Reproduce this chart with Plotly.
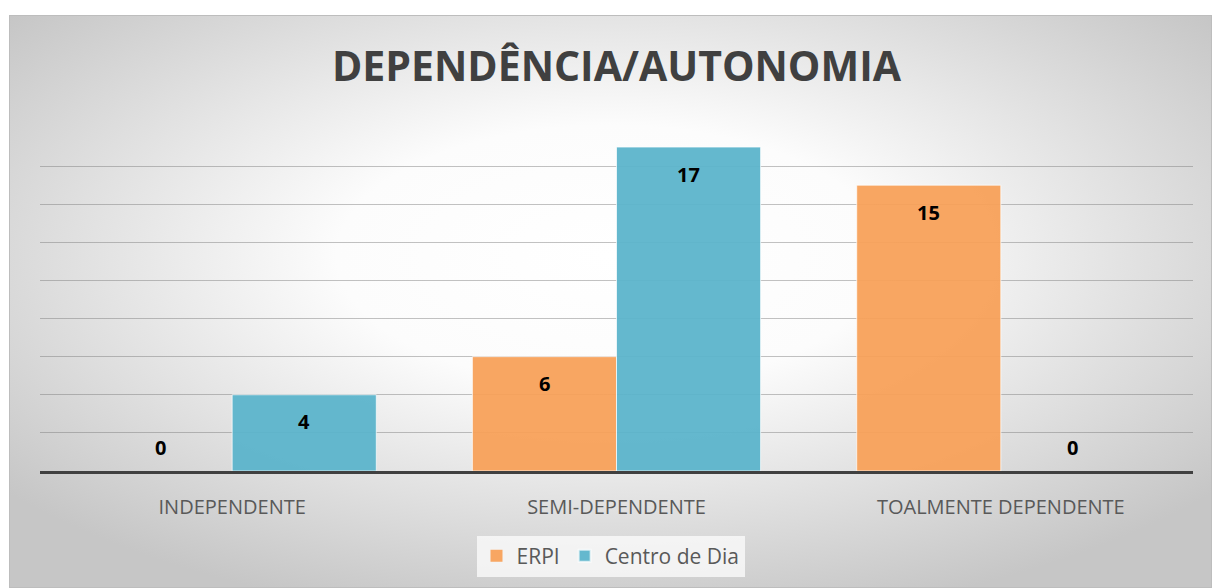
import base64
import plotly.graph_objects as go

categories = ["INDEPENDENTE", "SEMI-DEPENDENTE", "TOALMENTE DEPENDENTE"]
erpi = [0, 6, 15]
centro = [4, 17, 0]
series_names = ["ERPI", "Centro de Dia"]
title_text = "DEPENDÊNCIA/AUTONOMIA"

ORANGE = "rgba(248,160,88,0.94)"
TEAL = "rgba(90,180,203,0.94)"

W, H = 1212, 588
L, R, T, B = 40, 19, 128, 117
pw, ph = W - L - R, H - T - B


def edge(vals):
    return ["rgba(255,255,255,0.7)" if v > 0 else "rgba(0,0,0,0)" for v in vals]


fig = go.Figure()
fig.add_trace(go.Bar(name=series_names[0], x=categories, y=erpi,
                     marker=dict(color=ORANGE, line=dict(color=edge(erpi), width=1))))
fig.add_trace(go.Bar(name=series_names[1], x=categories, y=centro,
                     marker=dict(color=TEAL, line=dict(color=edge(centro), width=1))))

half = pw / len(categories) * 0.75 / 4
for vals, xs in ((erpi, -half), (centro, half)):
    for c, v in zip(categories, vals):
        fig.add_annotation(x=c, y=v, text=str(v), showarrow=False,
                           xshift=xs, yshift=(-27 if v > 0 else 24),
                           font=dict(family="Open Sans", size=20, color="black", weight="bold"))

svg = """<svg xmlns='http://www.w3.org/2000/svg' width='1203' height='573' viewBox='0 0 1203 573' preserveAspectRatio='none'>
<defs><radialGradient id='g' cx='0.5' cy='0.42' r='0.65' gradientUnits='objectBoundingBox'>
<stop offset='0' stop-color='#ffffff'/><stop offset='0.35' stop-color='#fcfcfc'/><stop offset='1' stop-color='#c6c6c6'/></radialGradient></defs>
<rect x='0' y='0' width='1203' height='573' fill='url(#g)' stroke='#bdbdbd' stroke-width='2'/></svg>"""
uri = "data:image/svg+xml;base64," + base64.b64encode(svg.encode()).decode()
x0 = (9 - L) / pw
y0 = (H - B - 15) / ph
fig.add_layout_image(source=uri, xref="paper", yref="paper", x=x0, y=y0,
                     sizex=(W - 9) / pw, sizey=(H - 15) / ph,
                     xanchor="left", yanchor="top", sizing="stretch", layer="below")

fig.update_layout(
    width=W, height=H,
    margin=dict(l=L, r=R, t=T, b=B),
    paper_bgcolor="white", plot_bgcolor="rgba(0,0,0,0)",
    barmode="group", bargap=0.25, bargroupgap=0,
    title=dict(text=title_text, x=(L + pw / 2) / W, xanchor="center", y=1 - 67 / H, yanchor="middle",
               font=dict(family="Open Sans", size=41, color="#404040", weight="bold")),
    legend=dict(orientation="h", x=0.5 - 6 / pw, xanchor="center", y=(H - B - 556) / ph, yanchor="middle",
                bgcolor="rgba(248,248,248,0.85)", font=dict(family="Open Sans", size=21, color="#595959"),
                itemsizing="constant"),
    xaxis=dict(showline=True, linecolor="#404040", linewidth=3, ticks="", ticklabelstandoff=16,
               tickfont=dict(family="Open Sans", size=20, color="#595959"), showgrid=False),
    yaxis=dict(range=[0, 18], dtick=2, showticklabels=False, zeroline=False,
               gridcolor="rgba(120,120,120,0.45)", gridwidth=1),
    showlegend=True,
)

fig.write_html("out.html", config={"displayModeBar": False},
               post_script="document.body.style.margin='0';document.body.style.overflow='hidden';")
